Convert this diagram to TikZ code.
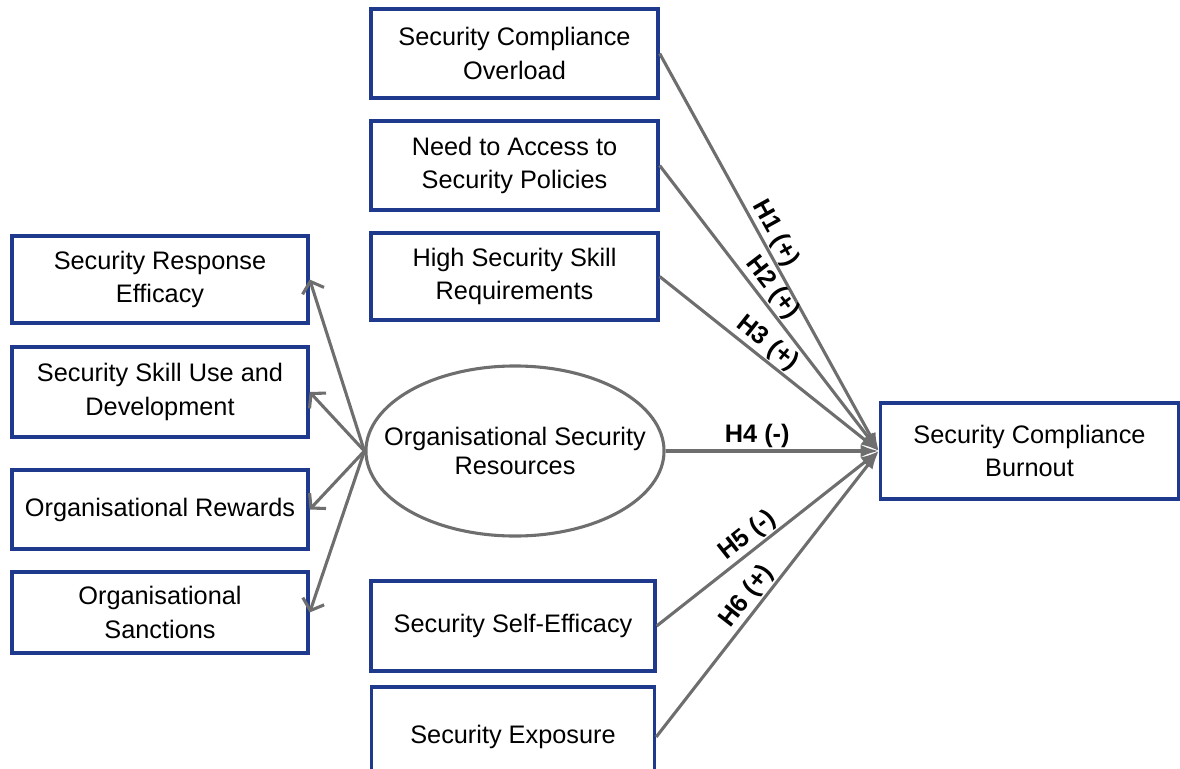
\documentclass[tikz,border=0pt]{standalone}
\usepackage{fontspec}
\setmainfont{Liberation Sans}
\usetikzlibrary{arrows.meta,shapes.geometric}
\definecolor{azul}{HTML}{1F3A8C}
\definecolor{gris}{HTML}{6E6E6E}

\begin{document}
\begin{tikzpicture}[x=0.025cm,y=-0.025cm,
        caja/.style={draw=azul,line width=2.3pt,fill=white,align=center,
            inner sep=0pt,font=\fontsize{18}{24}\selectfont},
        etiqueta/.style={font=\bfseries\fontsize{18}{20}\selectfont,inner sep=1pt},
        hipotesis/.style={draw=gris,line width=2.2pt,-{Latex[length=13pt,width=9pt]}},
        recurso/.style={draw=gris,line width=2.2pt,-{Straight Barb[length=7pt,width=16pt]}}]
        % Fija el marco de la figura.
        \useasboundingbox (0,0) rectangle (1180,769);
        \clip (0,0) rectangle (1180,769);

        % Cajas de la izquierda: recursos de seguridad.
        \node[caja,minimum width=7.4cm,minimum height=2.175cm] (R1) at (160,279.5)
            {Security Response\\Efficacy};
        \node[caja,minimum width=7.4cm,minimum height=2.25cm] (R2) at (160,392)
            {Security Skill Use and\\Development};
        \node[caja,minimum width=7.4cm,minimum height=1.975cm] (R3) at (160,509.5)
            {Organisational Rewards};
        \node[caja,minimum width=7.4cm,minimum height=2.025cm] (R4) at (160,612.5)
            {Organisational\\Sanctions};

        % Cajas del centro: demandas y factores personales.
        \node[caja,minimum width=7.175cm,minimum height=2.225cm] (D1) at (514.5,53.5)
            {Security Compliance\\Overload};
        \node[caja,minimum width=7.175cm,minimum height=2.225cm] (D2) at (514.5,165.5)
            {Need to Access to\\Security Policies};
        \node[caja,minimum width=7.175cm,minimum height=2.175cm] (D3) at (514.5,276.5)
            {High Security Skill\\Requirements};
        \node[caja,minimum width=7.1cm,minimum height=2.25cm] (P1) at (513,626)
            {Security Self-Efficacy};
        \node[caja,minimum width=7.075cm,minimum height=2.5cm] (P2) at (513,737)
            {Security Exposure};

        % Elipse central O, su texto y caja de salida B.
        \node[draw=gris,line width=2.2pt,ellipse,inner sep=0pt,
            minimum width=7.45cm,minimum height=4.25cm] (O) at (515,451) {};
        \node[align=center,inner sep=0pt,font=\fontsize{18}{20}\selectfont] (Otexto)
            at (O.center) {Organisational Security\\Resources};
        \node[caja,minimum width=7.45cm,minimum height=2.4cm] (B) at (1029.5,451)
            {Security Compliance\\Burnout};

        % Flechas de O hacia los recursos.
        \draw[recurso] (O.west) -- (R1.east);
        \draw[recurso] (O.west) -- (R2.east);
        \draw[recurso] (O.west) -- (R3.east);
        \draw[recurso] (O.west) -- (R4.east);

        % Hipótesis H1 a H6 hacia B.
        \draw[hipotesis] (D1.east) -- node[etiqueta,sloped,above,pos=0.47] {H1 (+)} (B.west);
        \draw[hipotesis] (D2.east) -- node[etiqueta,sloped,above,pos=0.46] {H2 (+)} (B.west);
        \draw[hipotesis] (D3.east) -- node[etiqueta,sloped,above,pos=0.45] {H3 (+)} (B.west);
        \draw[hipotesis] (O.east) -- node[etiqueta,above,pos=0.43] {H4 (-)} (B.west);
        \draw[hipotesis] (P1.east) -- node[etiqueta,sloped,above,pos=0.45] {H5 (-)} (B.west);
        \draw[hipotesis] (P2.east) -- node[etiqueta,sloped,above,pos=0.46] {H6 (+)} (B.west);
    \end{tikzpicture}
\end{document}
